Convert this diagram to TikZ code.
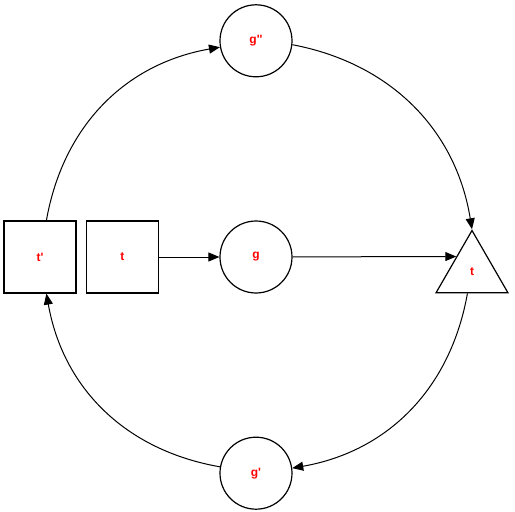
\documentclass[tikz,border=0pt]{standalone}
\usepackage{fontspec}
\usepackage{xcolor}
\usepackage{tikz}
\usetikzlibrary{arrows.meta,positioning,shapes.geometric}
\newfontfamily\labelfont{Liberation Sans}
\definecolor{lblred}{HTML}{FF0000}

\begin{document}
\begin{tikzpicture}[
  x=1pt, y=1pt,
  circ/.style={draw=black, circle, line width=1.2pt, minimum size=72pt, inner sep=0pt, font=\labelfont\bfseries\fontsize{12}{14}\selectfont, text=lblred},
  sq/.style  ={draw=black, rectangle, line width=1.2pt, minimum size=72pt, inner sep=0pt, font=\labelfont\bfseries\fontsize{12}{14}\selectfont, text=lblred},
  tri/.style ={draw=black, regular polygon, regular polygon sides=3, line width=1.2pt, minimum size=83pt, inner sep=0pt, font=\labelfont\bfseries\fontsize{12}{14}\selectfont, text=lblred},
  arr/.style ={-{Triangle[length=11pt, width=9pt]}, line width=1pt, black},
]
  \useasboundingbox (-256,-255) rectangle (259,257);

  \node[circ] (g)                       {g};
  \node[circ, above=143pt of g] (gpp)   {g''};
  \node[circ, below=143pt of g] (gp)    {g'};
  \node[sq, left=60.3pt of g]  (t)      {t};
  \node[sq, left=9.3pt of t]   (tp)     {t'};
  \node[tri] (tri) at (216,-15)         {t};

  % point on the left edge of the triangle, level with g
  \path (tri.corner 1) -- (tri.corner 2) coordinate[pos=0.425] (trin);

  \draw[arr] (t)   -- (g);
  \draw[arr] (g)   -- (trin);
  \draw[arr] (tp)  to[bend left=35] (gpp);
  \draw[arr] (gpp) to[bend left=35] (tri.corner 1);
  \draw[arr] (tri) to[bend left=35] (gp);
  \draw[arr] (gp)  to[bend left=35] (tp);
\end{tikzpicture}
\end{document}
